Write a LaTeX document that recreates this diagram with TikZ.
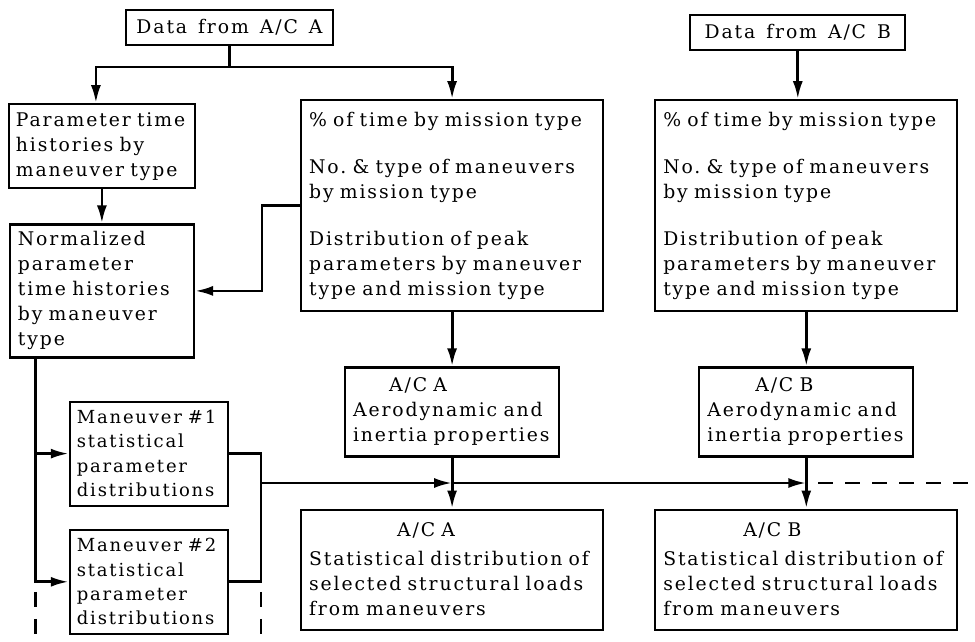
\documentclass[tikz,border=0pt]{standalone}
\usepackage{fontspec}
\setmainfont{DejaVu Serif}[LetterSpace=10, WordSpace=1.4]
\usetikzlibrary{arrows.meta}
\usetikzlibrary{positioning}

\begin{document}
\begin{tikzpicture}[
				node distance=8mm,
				line width=1.4pt,
				box/.style={draw, line width=1.1pt, align=left, inner sep=4pt,
					font=\fontsize{9.4}{12.5}\selectfont},
				titlebox/.style={box, align=center, minimum height=17.5pt},
				listbox/.style={box, text width=143pt, minimum height=105.5pt},
				propbox/.style={box, text width=99pt, minimum height=44.5pt},
				loadbox/.style={box, text width=143pt, minimum height=60pt},
				manbox/.style={box, text width=72pt, minimum height=52pt, inner xsep=3.5pt, inner ysep=1pt,
					font=\fontsize{9}{12.2}\selectfont},
				arrow/.style={-{Latex[length=9pt,width=5pt]}},
				dashline/.style={dash pattern=on 7.5pt off 6pt},
			]
				\useasboundingbox (0,0) coordinate (nw) rectangle (487.5pt,-321pt) coordinate (se);
				\fill[white] (nw) rectangle (se);
				
				% sources
				\node (dataA) [titlebox, minimum width=103.5pt] at (114.75pt,-13.75pt) {Data from A/C A};
				\node (hist) [box, text width=86pt, minimum height=41.5pt, inner xsep=3.5pt, below left=28.5pt and 16.75pt of dataA.south]
					{Parameter time\\histories by\\maneuver type};
				\node (pctA) [listbox, below right=26.5pt and 35.25pt of dataA.south]
					{\% of time by mission type\\[11pt]No.\ \& type of maneuvers\\by mission type\\[11pt]Distribution of peak\\parameters by maneuver\\type and mission type};
				\node (pctB) [listbox, right=25pt of pctA]
					{\% of time by mission type\\[11pt]No.\ \& type of maneuvers\\by mission type\\[11pt]Distribution of peak\\parameters by maneuver\\type and mission type};
				\node (dataB) [titlebox, minimum width=107.5pt, above=24pt of pctB, xshift=-4.25pt] {Data from A/C B};
				\node (norm) [box, text width=84pt, minimum height=66.5pt, inner ysep=2pt, below=17pt of hist]
					{Normalized\\parameter\\time histories\\by maneuver\\type};
				
				% aircraft properties and loads
				\node (aeroA) [propbox, below=27pt of pctA] {\hspace*{18pt}A/C A\\Aerodynamic and\\inertia properties};
				\node (aeroB) [propbox, below=27pt of pctB] {\hspace*{24pt}A/C B\\Aerodynamic and\\inertia properties};
				\node (statA) [loadbox, below=25.5pt of aeroA]
					{\hspace*{44pt}A/C A\\[2pt]Statistical distribution of\\selected structural loads\\from maneuvers};
				\node (statB) [loadbox, below=25.5pt of aeroB]
					{\hspace*{40pt}A/C B\\[2pt]Statistical distribution of\\selected structural loads\\from maneuvers};
				
				% maneuvers
				\node (man1) [manbox, below right=21pt and 30pt of norm.south west]
					{Maneuver \#1\\statistical\\parameter\\distributions};
				\node (man2) [manbox, below=11pt of man1]
					{Maneuver \#2\\statistical\\parameter\\distributions};
				
				\draw (dataA.south) -- ++(0,-10.5pt) coordinate (split);
				\draw[arrow] (split) -| ([xshift=-3pt]hist.north);
				\draw[arrow] (split) -| (pctA);
				\draw[arrow] (dataB) -- (dataB |- pctB.north);
				\draw[arrow] (hist) -- (norm);
				\draw[arrow] (pctA.west) -- ++(-19pt,0) |- (norm.east);
				\draw[arrow] (pctA) -- (aeroA);
				\draw[arrow] (pctB) -- (aeroB);
				\draw[arrow] (aeroA) -- coordinate (midA) (statA);
				\draw[arrow] (aeroB) -- coordinate (midB) (statB);
				
				\draw[arrow] ([xshift=13.5pt]norm.south west) coordinate (drop) |- (man1.west);
				\draw[arrow] (drop) |- (man2.west);
				\draw (man1.east) -- ++(16pt,0) coordinate (join) |- (man2.east);
				\draw[arrow] (join |- midA) -- (midA);
				\draw[arrow] (midA) -- (midB);
				
				% continuation to further maneuvers and aircraft
				\draw[dashline] (drop |- man2.west) ++(0,-5pt) -- (drop |- se);
				\draw[dashline] (join |- man2.east) ++(0,-5pt) -- (join |- se);
				\draw[dashline] (midB) ++(6pt,0) -- (midB -| se);
			\end{tikzpicture}
\end{document}
